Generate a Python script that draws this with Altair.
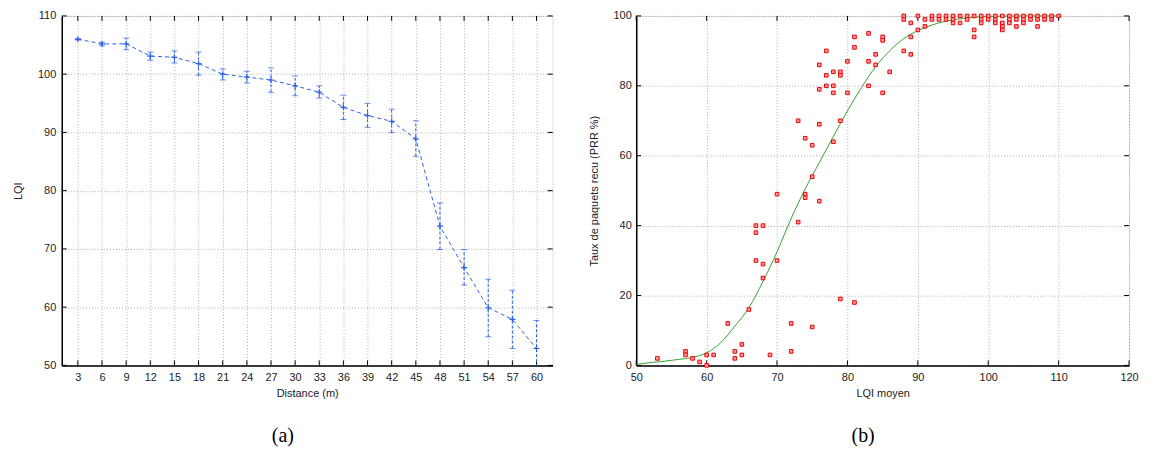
import altair as alt
import pandas as pd

# ---------------- Panel (a): LQI vs distance ----------------
distance = [3, 6, 9, 12, 15, 18, 21, 24, 27, 30, 33, 36, 39, 42, 45, 48, 51, 54, 57, 60]
lqi_mean = [106.0, 105.2, 105.2, 103.1, 102.9, 101.8, 100.0, 99.5, 99.0, 98.0,
            96.9, 94.3, 92.9, 91.9, 88.9, 73.9, 66.8, 59.9, 57.9, 52.9]
lqi_low = [105.85, 104.9, 104.2, 102.4, 101.9, 99.8, 99.0, 98.5, 96.9, 96.3,
           95.9, 92.2, 90.9, 90.0, 85.9, 69.9, 63.8, 54.9, 52.9, 48.0]
lqi_high = [106.15, 105.5, 106.2, 103.8, 104.0, 103.8, 100.9, 100.5, 101.1, 99.7,
            98.0, 96.4, 95.0, 94.0, 92.0, 77.9, 69.9, 64.8, 62.9, 57.7]
lqi_ticks = [50, 60, 70, 80, 90, 100, 110]

# ---------------- Panel (b): PRR vs mean LQI ----------------
pts_lqi = [53, 57, 57, 58, 59, 60, 60, 61, 63, 64, 64, 65, 65, 66, 67, 67, 67, 68, 68, 68,
           69, 70, 70, 72, 72, 73, 73, 74, 74, 74, 75, 75, 75, 76, 76, 76, 76, 77, 77, 77,
           78, 78, 78, 78, 79, 79, 79, 79, 80, 80, 81, 81, 81, 83, 83, 83, 84, 84, 85, 85,
           85, 86, 88, 88, 88, 89, 89, 89, 90, 90, 91, 91, 92, 92, 93, 93, 94, 94, 95, 95,
           95, 96, 96, 97, 97, 98, 98, 98, 99, 99, 99, 100, 100, 101, 101, 101, 102, 102, 102, 102,
           103, 103, 103, 104, 104, 104, 105, 105, 105, 106, 106, 107, 107, 107, 108, 108, 109, 109, 110]
pts_prr = [2, 4, 3, 2, 1, 3, 0, 3, 12, 4, 2, 6, 3, 16, 40, 38, 30, 40, 29, 25,
           3, 49, 30, 12, 4, 41, 70, 49, 48, 65, 11, 63, 54, 47, 86, 79, 69, 90, 83, 80,
           84, 80, 78, 64, 19, 84, 83, 70, 87, 78, 18, 94, 91, 95, 87, 80, 89, 86, 94, 93,
           78, 84, 100, 99, 90, 98, 94, 89, 100, 96, 99, 97, 100, 99, 100, 99, 100, 99, 100, 99,
           98, 100, 98, 100, 99, 100, 96, 94, 100, 99, 98, 100, 99, 100, 99, 98, 100, 98, 97, 96,
           100, 99, 98, 100, 99, 97, 100, 99, 98, 100, 99, 100, 99, 97, 100, 99, 100, 99, 100]
fit_lqi = [50, 52, 54, 56, 58, 60, 62, 64, 66, 68, 70, 72, 74, 76, 78, 80, 82, 84, 86, 88,
           90, 92, 94, 96, 98, 100, 105, 110]
fit_prr = [0.3, 0.8, 1.2, 1.7, 2.3, 3.6, 6.5, 11.2, 16.5, 24.0, 32.5, 42.0, 50.5, 58.0, 65.5, 72.8,
           79.5, 85.5, 90.0, 93.5, 95.8, 97.4, 98.5, 99.2, 99.6, 99.85, 100.0, 100.0]
lqi_moyen_ticks = [50, 60, 70, 80, 90, 100, 110, 120]
prr_ticks = [0, 20, 40, 60, 80, 100]

FONT = "Liberation Sans"
W1, W2, H = 493, 495, 351
BLUE = "#2a62e8"
RED = "#ee0000"
GREEN = "#33a033"
TICK = 5


def axis(values, title, lp, tp):
    return alt.Axis(values=values, title=title, grid=True, gridColor="#9a9a9a",
                    gridDash=[1, 2], gridWidth=0.8, ticks=False, labelPadding=lp,
                    titlePadding=tp, domainColor="black", domainWidth=1.5,
                    labelFont=FONT, labelFontSize=11, labelColor="#222",
                    titleFont=FONT, titleFontSize=11, titleFontWeight="normal",
                    titleColor="#222", labelFlush=False, labelOverlap=False)


def inner_ticks(xvals, yvals, xenc, yenc, W):
    xt = pd.DataFrame({"v": xvals})
    yt = pd.DataFrame({"v": yvals})
    bottom = alt.Chart(xt).mark_rule(color="black", strokeWidth=1).encode(
        x=xenc("v"), y=alt.value(H), y2=alt.value(H - TICK))
    top = alt.Chart(xt).mark_rule(color="black", strokeWidth=1).encode(
        x=xenc("v"), y=alt.value(0), y2=alt.value(TICK))
    left = alt.Chart(yt).mark_rule(color="black", strokeWidth=1).encode(
        y=yenc("v"), x=alt.value(0), x2=alt.value(TICK))
    right = alt.Chart(yt).mark_rule(color="black", strokeWidth=1).encode(
        y=yenc("v"), x=alt.value(W), x2=alt.value(W - TICK))
    return [bottom, top, left, right]


def caption(text):
    return alt.TitleParams(text, orient="bottom", anchor="middle", frame="bounds",
                           font="Liberation Serif", fontSize=20, fontWeight="normal",
                           color="black", offset=28)


# ---- panel (a)
dfa = pd.DataFrame({"d": distance, "m": lqi_mean, "lo": lqi_low, "hi": lqi_high})


def xa(f):
    return alt.X(f"{f}:Q", scale=alt.Scale(domain=[1, 62], nice=False, zero=False),
                 axis=axis(distance, "Distance (m)", 6, 5))


def ya(f):
    return alt.Y(f"{f}:Q", scale=alt.Scale(domain=[50, 110], nice=False, zero=False),
                 axis=axis(lqi_ticks, "LQI", 6, 14))


base_a = alt.Chart(dfa)
line_a = base_a.mark_line(color=BLUE, strokeWidth=1, strokeDash=[4, 3]).encode(x=xa("d"), y=ya("m"))
err_a = base_a.mark_rule(color=BLUE, strokeWidth=1, strokeDash=[3, 2], clip=True).encode(
    x=xa("d"), y=ya("lo"), y2="hi:Q")
cap_hi = base_a.mark_tick(color=BLUE, orient="horizontal", size=6, thickness=1).encode(x=xa("d"), y=ya("hi"))
cap_lo = base_a.mark_tick(color=BLUE, orient="horizontal", size=6, thickness=1, clip=True).encode(
    x=xa("d"), y=ya("lo"))
plus_a = base_a.mark_point(shape="M-1,0L1,0M0,-1L0,1", size=36, strokeWidth=1.2, color=BLUE,
                           filled=False, opacity=1).encode(x=xa("d"), y=ya("m"))

panel_a = alt.layer(
    *inner_ticks(distance, lqi_ticks, xa, ya, W1),
    line_a, err_a, cap_hi, cap_lo, plus_a
).properties(width=W1, height=H, title=caption("(a)"))

# ---- panel (b)
dfp = pd.DataFrame({"x": pts_lqi, "y": pts_prr})
dff = pd.DataFrame({"x": fit_lqi, "y": fit_prr})


def xb(f):
    return alt.X(f"{f}:Q", scale=alt.Scale(domain=[50, 120], nice=False, zero=False),
                 axis=axis(lqi_moyen_ticks, "LQI moyen", 6, 5))


def yb(f):
    return alt.Y(f"{f}:Q", scale=alt.Scale(domain=[0, 100], nice=False),
                 axis=axis(prr_ticks, "Taux de paquets recu (PRR %)", 5, 14))


fit_b = alt.Chart(dff).mark_line(color=GREEN, strokeWidth=1, interpolate="monotone").encode(
    x=xb("x"), y=yb("y"))
pts_b = alt.Chart(dfp).mark_square(size=13, filled=True, fill="#ff9c9c", stroke=RED,
                                   strokeWidth=1, opacity=1).encode(x=xb("x"), y=yb("y"))

panel_b = alt.layer(
    *inner_ticks(lqi_moyen_ticks, prr_ticks, xb, yb, W2),
    fit_b, pts_b
).properties(width=W2, height=H, title=caption("(b)"))

chart = alt.hconcat(panel_a, panel_b, spacing=34).properties(
    padding={"left": 4, "top": 0, "right": 2, "bottom": 0}
).configure_view(stroke="black", strokeWidth=1.5).configure(background="white")

chart.save("out.html", embed_options={"renderer": "svg", "actions": False})
